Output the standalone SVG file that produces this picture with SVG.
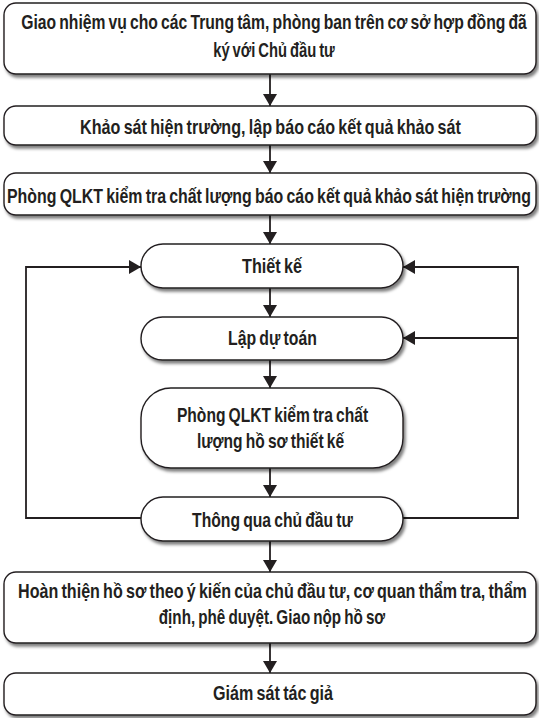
<svg xmlns="http://www.w3.org/2000/svg" width="539" height="718" viewBox="0 0 539 718">
<defs>
<filter id="sh" x="-5%" y="-20%" width="112%" height="150%">
<feDropShadow dx="2" dy="3" stdDeviation="1.6" flood-color="#000" flood-opacity="0.5"/>
</filter>
<marker id="ah" viewBox="0 0 12 14" refX="12" refY="7" markerWidth="12" markerHeight="14" orient="auto" markerUnits="userSpaceOnUse">
<path d="M0,0 L12,7 L0,14 Z" fill="#231f20"/>
</marker>
<style>
.box{fill:#fff;stroke:#231f20;stroke-width:1.4;filter:url(#sh)}
.t{font-family:"Liberation Sans",Arial,sans-serif;font-weight:bold;font-size:19.5px;fill:#231f20;text-anchor:middle;word-spacing:-1.5px}
.c{fill:none;stroke:#231f20;stroke-width:1.8;marker-end:url(#ah)}
</style>
</defs>
<rect width="539" height="718" fill="#fff"/>
<g id="connectors">
<path class="c" d="M270,74 V106"/>
<path class="c" d="M270,145 V173"/>
<path class="c" d="M270,215 V244"/>
<path class="c" d="M270,288 V317"/>
<path class="c" d="M270,360 V388"/>
<path class="c" d="M270,468 V497"/>
<path class="c" d="M270,541 V572"/>
<path class="c" d="M270,643 V673"/>
<path class="c" d="M141,518 H26 V267 H141"/>
<path class="c" d="M403,518 H518 V267 H403"/>
<path class="c" d="M518,338 H403"/>
</g>
<g id="n1">
<rect class="box" x="4" y="3" width="532" height="71" rx="12"/>
<text class="t" transform="translate(274,29) scale(0.8,1)" textLength="632" lengthAdjust="spacingAndGlyphs">Giao nhiệm vụ cho các Trung tâm, phòng ban trên cơ sở hợp đồng đã</text>
<text class="t" transform="translate(274,57) scale(0.8,1)" textLength="152" lengthAdjust="spacingAndGlyphs">ký với Chủ đầu tư</text>
</g>
<g id="n2">
<rect class="box" x="4" y="106" width="532" height="39" rx="12"/>
<text class="t" transform="translate(270.5,134) scale(0.8,1)" textLength="476" lengthAdjust="spacingAndGlyphs">Khảo sát hiện trường, lập báo cáo kết quả khảo sát</text>
</g>
<g id="n3">
<rect class="box" x="4" y="173" width="532" height="42" rx="12"/>
<text class="t" transform="translate(269,203) scale(0.8,1)" textLength="655" lengthAdjust="spacingAndGlyphs">Phòng QLKT kiểm tra chất lượng báo cáo kết quả khảo sát hiện trường</text>
</g>
<g id="n4">
<rect class="box" x="141" y="244" width="262" height="44" rx="22"/>
<text class="t" transform="translate(272,273) scale(0.8,1)" textLength="75" lengthAdjust="spacingAndGlyphs">Thiết kế</text>
</g>
<g id="n5">
<rect class="box" x="141" y="317" width="262" height="43" rx="21.5"/>
<text class="t" transform="translate(272.5,345) scale(0.8,1)" textLength="111" lengthAdjust="spacingAndGlyphs">Lập dự toán</text>
</g>
<g id="n6">
<rect class="box" x="141" y="388" width="262" height="80" rx="30"/>
<text class="t" transform="translate(272.5,422) scale(0.8,1)" textLength="239" lengthAdjust="spacingAndGlyphs">Phòng QLKT kiểm tra chất</text>
<text class="t" transform="translate(270.5,448) scale(0.8,1)" textLength="184" lengthAdjust="spacingAndGlyphs">lượng hồ sơ thiết kế</text>
</g>
<g id="n7">
<rect class="box" x="141" y="497" width="262" height="44" rx="22"/>
<text class="t" transform="translate(272.5,527) scale(0.8,1)" textLength="201" lengthAdjust="spacingAndGlyphs">Thông qua chủ đầu tư</text>
</g>
<g id="n8">
<rect class="box" x="4" y="572" width="532" height="71" rx="12"/>
<text class="t" transform="translate(272.5,598) scale(0.8,1)" textLength="636" lengthAdjust="spacingAndGlyphs">Hoàn thiện hồ sơ theo ý kiến của chủ đầu tư, cơ quan thẩm tra, thẩm</text>
<text class="t" transform="translate(272,624) scale(0.8,1)" textLength="283" lengthAdjust="spacingAndGlyphs">định, phê duyệt. Giao nộp hồ sơ</text>
</g>
<g id="n9">
<rect class="box" x="4" y="673" width="532" height="42" rx="12"/>
<text class="t" transform="translate(273,700) scale(0.8,1)" textLength="150" lengthAdjust="spacingAndGlyphs">Giám sát tác giả</text>
</g>
</svg>
